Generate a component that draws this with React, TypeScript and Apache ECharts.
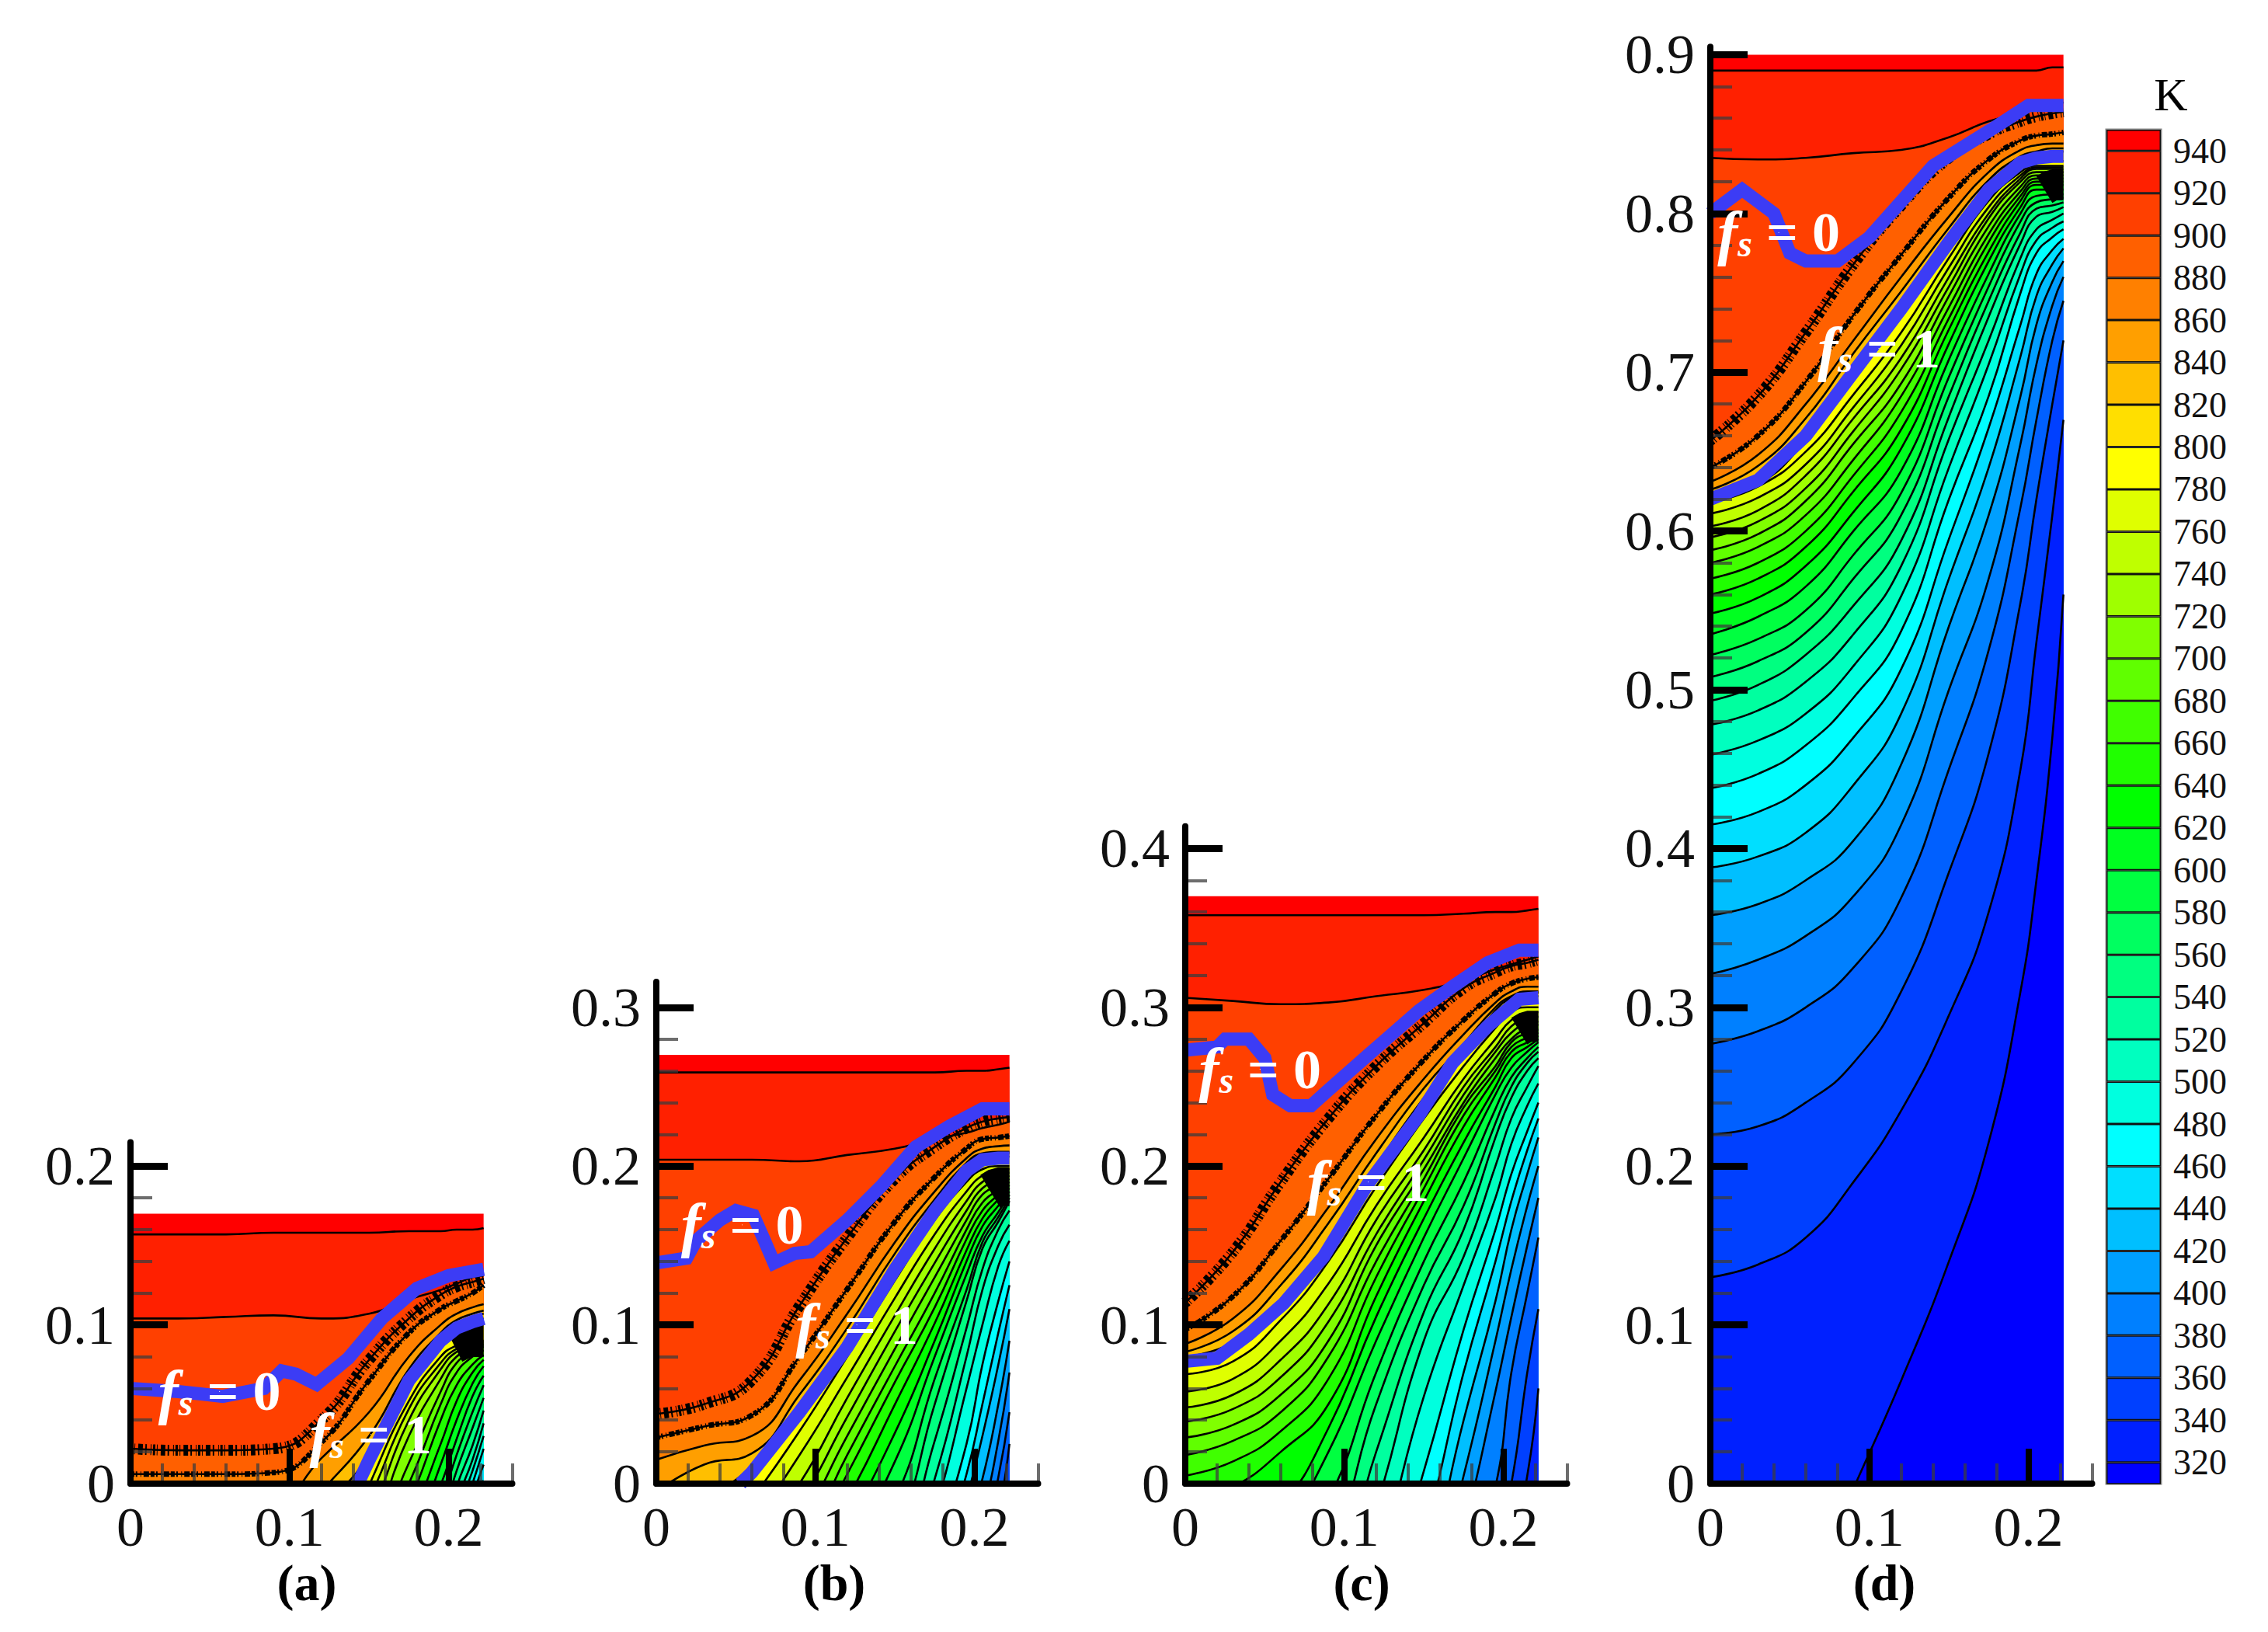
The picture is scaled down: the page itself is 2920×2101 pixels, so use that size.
import React, { useEffect, useRef } from "react";
import * as echarts from "echarts";

const FONT = "Liberation Serif";
const legendLevels = [320,340,360,380,400,420,440,460,480,500,520,540,560,580,600,620,640,660,680,700,720,740,760,780,800,820,840,860,880,900,920,940];
const bandColors = ["#0000ff","#0020ff","#0040ff","#0060ff","#0080ff","#009fff","#00bfff","#00dfff","#00ffff","#00ffdf","#00ffbf","#00ff9f","#00ff80","#00ff60","#00ff40","#00ff20","#00ff00","#20ff00","#40ff00","#60ff00","#80ff00","#9fff00","#bfff00","#dfff00","#ffff00","#ffdf00","#ffbf00","#ff9f00","#ff8000","#ff6000","#ff4000","#ff2000","#ff0000"];
const xs = [0,.03,.06,.09,.12,.15,.175,.195,.205,.215,.222];

// Isotherm heights, hottest (940 K) first, one column per entry of xs
const rowsD = [
[.89,.89,.89,.89,.89,.89,.89,.89,.89,.892,.892],
[.835,.834,.835,.838,.84,.848,.858,.863,.866,.868,.87],
[.657,.685,.725,.768,.805,.835,.85,.858,.861,.863,.864],
[.64,.66,.694,.736,.774,.81,.834,.846,.849,.85,.851],
[.631,.648,.68,.72,.76,.798,.826,.84,.843,.844,.844],
[.626,.641,.671,.712,.751,.791,.821,.836,.839,.841,.841],
[.623,.635,.663,.703,.743,.785,.818,.835,.838,.839,.839],
[.619,.629,.657,.697,.737,.779,.812,.829,.832,.833,.833],
[.618,.628,.65,.686,.725,.772,.808,.826,.83,.83,.83],
[.611,.621,.642,.678,.717,.766,.804,.824,.829,.829,.829],
[.603,.613,.635,.671,.709,.76,.80,.822,.828,.828,.828],
[.596,.606,.627,.663,.702,.754,.797,.82,.826,.826,.826],
[.588,.598,.619,.655,.693,.748,.792,.817,.824,.824,.824],
[.58,.59,.61,.645,.685,.741,.787,.814,.822,.822,.822],
[.57,.58,.60,.635,.675,.734,.782,.811,.82,.82,.82],
[.56,.57,.59,.625,.664,.727,.776,.808,.818,.818,.818],
[.548,.558,.578,.612,.652,.718,.77,.804,.815,.815,.815],
[.535,.546,.565,.60,.638,.708,.762,.80,.811,.812,.812],
[.522,.532,.55,.585,.624,.697,.754,.795,.807,.809,.81],
[.508,.518,.536,.57,.61,.685,.745,.788,.803,.805,.807],
[.493,.503,.522,.553,.594,.672,.735,.781,.798,.801,.804],
[.478,.487,.505,.535,.578,.658,.72,.772,.79,.796,.80],
[.459,.468,.485,.515,.559,.64,.705,.762,.783,.791,.795],
[.438,.447,.465,.495,.537,.62,.685,.75,.775,.785,.79],
[.415,.423,.44,.47,.513,.595,.665,.73,.762,.777,.784],
[.388,.395,.41,.44,.485,.57,.64,.71,.748,.768,.778],
[.358,.365,.38,.405,.453,.54,.61,.685,.73,.757,.77],
[.321,.33,.345,.37,.415,.50,.57,.655,.705,.742,.76],
[.277,.285,.30,.325,.369,.45,.525,.615,.67,.72,.745],
[.22,.225,.24,.265,.31,.385,.46,.555,.62,.68,.72],
[.13,.138,.155,.19,.235,.295,.36,.45,.53,.61,.67],
[-.25,-.15,-.07,-.003,.065,.14,.215,.31,.38,.47,.56],
];
const rowsC = [
[.358,.358,.358,.358,.358,.358,.359,.36,.36,.361,.362],
[.306,.304,.302,.303,.307,.311,.317,.324,.327,.33,.332],
[.114,.146,.19,.23,.263,.29,.312,.322,.326,.328,.33],
[.097,.118,.153,.192,.232,.267,.292,.309,.315,.318,.319],
[.088,.104,.135,.174,.217,.255,.283,.303,.31,.313,.313],
[.083,.096,.125,.164,.208,.249,.277,.30,.307,.31,.31],
[.08,.089,.115,.153,.20,.243,.273,.298,.306,.309,.309],
[.078,.087,.113,.151,.198,.241,.271,.296,.304,.307,.307],
[.069,.077,.103,.14,.187,.23,.263,.287,.297,.3,.3],
[.058,.066,.09,.126,.175,.218,.255,.28,.292,.296,.297],
[.048,.056,.078,.113,.166,.21,.25,.275,.288,.293,.294],
[.039,.047,.067,.102,.157,.204,.245,.272,.284,.29,.291],
[.029,.037,.056,.09,.15,.198,.24,.268,.28,.287,.289],
[.018,.027,.045,.08,.14,.192,.237,.263,.278,.284,.286],
[.005,.014,.033,.066,.13,.186,.232,.26,.275,.281,.284],
[-.012,-.002,.02,.05,.118,.178,.225,.256,.272,.278,.282],
[-.05,-.04,-.015,.035,.105,.167,.215,.25,.268,.275,.28],
[-.07,-.06,-.03,.02,.09,.155,.205,.245,.262,.272,.278],
[-.09,-.08,-.05,-.01,.07,.14,.19,.236,.256,.268,.275],
[-.11,-.1,-.07,-.04,.05,.125,.175,.227,.25,.265,.272],
[-.13,-.12,-.09,-.07,.02,.108,.16,.218,.243,.26,.268],
[-.15,-.14,-.11,-.1,-.015,.09,.143,.2,.23,.25,.263],
[-.17,-.16,-.13,-.12,-.05,.055,.125,.18,.214,.238,.252],
[-.19,-.18,-.15,-.14,-.09,.008,.097,.16,.195,.222,.24],
[-.2,-.2,-.2,-.2,-.11,-.03,.07,.14,.178,.21,.23],
[-.2,-.2,-.2,-.2,-.13,-.06,.04,.115,.16,.195,.218],
[-.2,-.2,-.2,-.2,-.15,-.09,.005,.09,.135,.175,.2],
[-.2,-.2,-.2,-.2,-.17,-.12,-.03,.058,.105,.15,.18],
[-.2,-.2,-.2,-.2,-.19,-.15,-.07,-.002,.07,.12,.155],
[-.3,-.3,-.3,-.3,-.21,-.18,-.1,-.04,0,.07,.11],
[-.3,-.3,-.3,-.3,-.23,-.2,-.13,-.07,-.04,.005,.06],
[-.3,-.3,-.3,-.3,-.25,-.22,-.16,-.1,-.07,-.03,0],
];
const rowsB = [
[.259,.259,.259,.259,.259,.259,.259,.26,.26,.261,.262],
[.204,.204,.204,.203,.207,.211,.217,.221,.224,.226,.228],
[.044,.05,.065,.112,.155,.192,.212,.224,.228,.23,.231],
[.029,.036,.043,.08,.1225,.165,.193,.211,.217,.218,.219],
[.015,.024,.03,.065,.107,.152,.184,.205,.211,.2125,.213],
[-.005,.012,.019,.056,.098,.145,.179,.202,.208,.209,.209],
[-.03,-.01,.011,.048,.089,.138,.175,.2,.207,.208,.208],
[-.05,-.03,.008,.046,.087,.136,.173,.198,.205,.206,.206],
[-.07,-.05,-.01,.033,.08,.128,.166,.19,.198,.2,.2],
[-.08,-.06,-.025,.018,.067,.117,.157,.184,.194,.197,.198],
[-.09,-.07,-.04,0,.054,.106,.148,.178,.19,.194,.196],
[-.1,-.08,-.05,-.012,.042,.096,.139,.172,.186,.191,.194],
[-.11,-.09,-.06,-.025,.03,.085,.13,.166,.182,.188,.192],
[-.12,-.1,-.07,-.04,.018,.074,.12,.16,.177,.185,.19],
[-.13,-.11,-.08,-.05,.006,.064,.111,.154,.172,.182,.188],
[-.14,-.12,-.09,-.06,-.01,.05,.101,.147,.167,.179,.186],
[-.15,-.13,-.1,-.07,-.025,.032,.09,.14,.162,.175,.184],
[-.16,-.14,-.11,-.08,-.04,.014,.08,.132,.156,.171,.182],
[-.17,-.15,-.12,-.09,-.055,-.01,.066,.122,.152,.168,.18],
[-.18,-.16,-.13,-.1,-.065,-.03,.05,.115,.148,.165,.178],
[-.19,-.17,-.14,-.11,-.08,-.05,.027,.098,.135,.16,.172],
[-.2,-.2,-.2,-.2,-.1,-.07,.003,.08,.122,.15,.163],
[-.2,-.2,-.2,-.2,-.12,-.09,-.018,.06,.1,.137,.153],
[-.2,-.2,-.2,-.2,-.14,-.11,-.04,.025,.075,.115,.14],
[-.2,-.2,-.2,-.2,-.16,-.13,-.06,.006,.05,.095,.125],
[-.2,-.2,-.2,-.2,-.18,-.15,-.08,-.01,.03,.075,.11],
[-.2,-.2,-.2,-.2,-.2,-.17,-.1,-.03,.003,.05,.09],
[-.3,-.3,-.3,-.3,-.22,-.19,-.12,-.05,-.02,.027,.07],
[-.3,-.3,-.3,-.3,-.24,-.21,-.14,-.07,-.04,.004,.045],
[-.3,-.3,-.3,-.3,-.26,-.23,-.16,-.09,-.06,-.02,.025],
[-.3,-.3,-.3,-.3,-.28,-.25,-.18,-.11,-.08,-.04,0],
[-.3,-.3,-.3,-.3,-.3,-.27,-.2,-.13,-.1,-.06,-.02],
];
const rowsA = [
[.157,.157,.157,.158,.158,.158,.159,.159,.16,.16,.161],
[.104,.104,.105,.106,.104,.107,.116,.122,.126,.13,.131],
[.022,.021,.021,.022,.04,.078,.104,.119,.124,.127,.129],
[.006,.006,.006,.007,.026,.065,.095,.11,.115,.12,.125],
[-.02,-.02,-.02,-.015,.016,.045,.08,.1,.107,.111,.113],
[-.05,-.05,-.05,-.04,-.005,.03,.072,.095,.103,.107,.109],
[-.07,-.07,-.07,-.06,-.018,.018,.068,.093,.101,.105,.107],
[-.08,-.08,-.08,-.07,-.03,.015,.065,.09,.098,.102,.104],
[-.1,-.1,-.1,-.1,-.07,-.001,.052,.08,.087,.09,.09],
[-.1,-.1,-.1,-.1,-.07,-.01,.047,.076,.085,.088,.089],
[-.1,-.1,-.1,-.1,-.07,-.02,.04,.072,.083,.086,.088],
[-.1,-.1,-.1,-.1,-.07,-.03,.03,.066,.08,.085,.087],
[-.1,-.1,-.1,-.1,-.07,-.04,.013,.058,.076,.083,.086],
[-.1,-.1,-.1,-.1,-.07,-.05,0,.05,.07,.08,.084],
[-.1,-.1,-.1,-.1,-.07,-.06,-.012,.04,.062,.075,.081],
[-.1,-.1,-.1,-.1,-.07,-.07,-.025,.025,.052,.07,.078],
[-.1,-.1,-.1,-.1,-.08,-.08,-.04,.012,.04,.063,.074],
[-.1,-.1,-.1,-.1,-.08,-.08,-.05,-.001,.028,.055,.068],
[-.1,-.1,-.1,-.1,-.08,-.08,-.06,-.012,.018,.045,.062],
[-.1,-.1,-.1,-.1,-.08,-.08,-.07,-.024,.008,.035,.054],
[-.1,-.1,-.1,-.1,-.08,-.08,-.08,-.036,-.002,.024,.046],
[-.1,-.1,-.1,-.1,-.08,-.08,-.08,-.05,-.012,.015,.038],
[-.1,-.1,-.1,-.1,-.08,-.08,-.08,-.06,-.02,.008,.03],
[-.1,-.1,-.1,-.1,-.08,-.08,-.08,-.07,-.03,0,.022],
[-.1,-.1,-.1,-.1,-.08,-.08,-.08,-.08,-.04,-.008,.012],
[-.1,-.1,-.1,-.1,-.08,-.08,-.08,-.08,-.05,-.016,.002],
];

// Solidus / liquidus fronts
const fs0A = [[0,.06],[.03,.058],[.058,.055],[.084,.06],[.095,.071],[.104,.069],[.117,.0625],[.137,.079],[.158,.104],[.18,.123],[.2,.131],[.222,.135]];
const fs1A = [[.143,0],[.15,.015],[.175,.065],[.195,.09],[.205,.098],[.215,.102],[.222,.104]];
const fs0B = [[0,.139],[.019,.142],[.025,.153],[.04,.166],[.05,.172],[.061,.169],[.068,.153],[.074,.139],[.087,.145],[.097,.146],[.12,.166],[.142,.188],[.163,.212],[.184,.225],[.205,.236],[.222,.236]];
const fs1B = [[.053,0],[.06,.007],[.09,.045],[.12,.086],[.15,.135],[.175,.172],[.195,.197],[.205,.204],[.215,.205],[.222,.205]];
const fs0C = [[0,.273],[.02,.275],[.025,.28],[.04,.28],[.05,.268],[.055,.245],[.066,.238],[.079,.238],[.089,.247],[.115,.27],[.147,.298],[.168,.313],[.19,.328],[.21,.336],[.222,.336]];
const fs1C = [[0,.077],[.02,.079],[.04,.094],[.062,.1136],[.087,.143],[.115,.189],[.147,.232],[.168,.265],[.19,.288],[.21,.305],[.222,.306]];
const fs0D = [[0,.8],[.02,.815],[.04,.80],[.05,.775],[.06,.77],[.08,.77],[.1,.785],[.14,.83],[.18,.855],[.2,.868],[.222,.868]];
const fs1D = [[0,.62],[.03,.632],[.06,.66],[.09,.70],[.12,.74],[.15,.782],[.175,.815],[.195,.832],[.205,.835],[.215,.836],[.222,.836]];

const blobA = [[.204,.086],[.212,.09],[.222,.09]];
const blobB = [[.21,.184],[.215,.187],[.222,.187]];
const blobC = [[.21,.285],[.215,.288],[.222,.288]];
const blobD = [[.21,.815],[.215,.818],[.222,.818]];

const xMajor = [.1,.2];
const xMinor = [.02,.04,.06,.08,.12,.14,.16,.18,.22,.24];
const xLabels = [0,.1,.2];
const minorY = [.02,.04,.06,.08,.12,.14,.16,.18,.22,.24,.26,.28,.32,.34,.36,.38,.42,.44,.46,.48,.52,.54,.56,.58,.62,.64,.66,.68,.72,.74,.76,.78,.82,.84,.86,.88];
const panelTitles = ["(a)","(b)","(c)","(d)"];

const panels = [
  { rows: rowsA, fs0: fs0A, fs1: fs1A, blob: blobA, left: 168, maxY: .215, domainTop: .17, yMajor: [.1,.2], t0: [.056,.058], t1: [.151,.031], titleX: 395, blobW: 42 },
  { rows: rowsB, fs0: fs0B, fs1: fs1B, blob: blobB, left: 845, maxY: .316, domainTop: .27, yMajor: [.1,.2,.3], t0: [.054,.163], t1: [.126,.10], titleX: 1074, blobW: 50 },
  { rows: rowsC, fs0: fs0C, fs1: fs1C, blob: blobC, left: 1526, maxY: .414, domainTop: .37, yMajor: [.1,.2,.3,.4], t0: [.047,.261], t1: [.115,.19], titleX: 1753, blobW: 40 },
  { rows: rowsD, fs0: fs0D, fs1: fs1D, blob: blobD, left: 2202, maxY: .905, domainTop: .9, yMajor: [.1,.2,.3,.4,.5,.6,.7,.8,.9], t0: [.043,.788], t1: [.106,.715], titleX: 2426, blobW: 40 },
];

const BOTTOM = 1910;
const YSCALE = 2044;
const XSCALE = 2048;

function buildOption() {
  const grid: any[] = [], xAxis: any[] = [], yAxis: any[] = [], series: any[] = [], graphic: any[] = [];
  panels.forEach((p, i) => {
    const height = p.maxY * YSCALE;
    grid.push({ left: p.left, top: BOTTOM - height, width: .24 * XSCALE, height });
    const axX = i * 2, axY = i * 2;
    xAxis.push({
      gridIndex: i, type: "value", min: 0, max: .24, position: "bottom", z: 6,
      splitLine: { show: false },
      axisLine: { show: true, onZero: false, lineStyle: { color: "#000", width: 8 } },
      axisTick: { show: true, inside: true, customValues: xMajor, length: 45, lineStyle: { color: "#000", width: 8 } },
      axisLabel: { show: true, customValues: xLabels, margin: 20, fontFamily: FONT, fontSize: 72, color: "#111", formatter: (v: number) => String(v) },
    });
    xAxis.push({
      gridIndex: i, type: "value", min: 0, max: .24, position: "bottom", z: 5,
      splitLine: { show: false }, axisLine: { show: false }, axisLabel: { show: false },
      axisTick: { show: true, inside: true, customValues: xMinor, length: 26, lineStyle: { color: "rgba(60,60,60,.75)", width: 4 } },
    });
    yAxis.push({
      gridIndex: i, type: "value", min: 0, max: p.maxY, position: "left", z: 6,
      splitLine: { show: false },
      axisLine: { show: true, onZero: false, lineStyle: { color: "#000", width: 8 } },
      axisTick: { show: true, inside: true, customValues: p.yMajor, length: 48, lineStyle: { color: "#000", width: 9 } },
      axisLabel: { show: true, customValues: [0, ...p.yMajor], margin: 20, fontFamily: FONT, fontSize: 72, color: "#111", formatter: (v: number) => String(v) },
    });
    yAxis.push({
      gridIndex: i, type: "value", min: 0, max: p.maxY, position: "left", z: 5,
      splitLine: { show: false }, axisLine: { show: false }, axisLabel: { show: false },
      axisTick: { show: true, inside: true, customValues: minorY.filter((v) => v < p.maxY), length: 28, lineStyle: { color: "rgba(60,60,60,.75)", width: 4 } },
    });
    const base = { type: "line", xAxisIndex: axX, yAxisIndex: axY, showSymbol: false, symbol: "none", silent: true, animation: false };
    series.push({ ...base, data: [[0, p.domainTop], [.222, p.domainTop]], lineStyle: { width: 0 }, areaStyle: { color: "#ff0000", opacity: 1, origin: "start" } });
    p.rows.forEach((row, k) => {
      series.push({
        ...base, smooth: .5,
        data: xs.map((x, j) => [x, row[j]]),
        lineStyle: { color: "#000", width: 2.6 },
        areaStyle: { color: bandColors[31 - k], opacity: 1, origin: "start" },
      });
    });
    [[2, 14, [3, 2, 1, 4, 6, 3, 2, 5, 1, 2]], [3, 7, [5, 2, 2, 4, 1, 3, 7, 2]]].forEach(([rowIndex, width, dash]: any) => {
      series.push({
        ...base, smooth: .5,
        data: xs.map((x, j) => [x, p.rows[rowIndex][j]]),
        lineStyle: { color: "#000", width, type: dash },
      });
    });
    series.push({ ...base, data: p.blob, lineStyle: { color: "#000", width: p.blobW, cap: "butt" } });
    series.push({ ...base, data: p.fs0, lineStyle: { color: "#3c3cf5", width: 17, join: "miter" } });
    series.push({ ...base, data: p.fs1, lineStyle: { color: "#3c3cf5", width: 17, join: "miter" } });
    series.push({
      type: "scatter", xAxisIndex: axX, yAxisIndex: axY, symbolSize: 1, silent: true, z: 8,
      itemStyle: { opacity: 1, color: "#fff" },
      data: [{ value: p.t0, name: "0" }, { value: p.t1, name: "1" }],
      label: {
        show: true, position: "inside", color: "#fff", opacity: 1, fontFamily: FONT, fontSize: 72,
        formatter: (d: any) => `{f|f}{s|s}{n| = ${d.name}}`,
        rich: {
          f: { fontFamily: FONT, fontStyle: "italic", fontWeight: "bold", fontSize: 78, color: "#fff", opacity: 1 },
          s: { fontFamily: FONT, fontStyle: "italic", fontWeight: "bold", fontSize: 48, color: "#fff", opacity: 1, padding: [28, 0, 0, 0] },
          n: { fontFamily: FONT, fontSize: 72, fontWeight: "bold", color: "#fff", opacity: 1 },
        },
      },
    });
    graphic.push({ type: "text", x: p.titleX, y: 2037, z: 20, style: { text: panelTitles[i], fontFamily: FONT, fontWeight: "bold", fontSize: 66, fill: "#000", textAlign: "center", textVerticalAlign: "middle" } });
  });
  // colour bar
  const li = panels.length;
  grid.push({ left: 2712, top: 167, width: 70, height: BOTTOM - 167, show: true, borderColor: "#888", borderWidth: 3, backgroundColor: "transparent" });
  xAxis.push({ gridIndex: li, type: "category", data: ["K"], show: false });
  yAxis.push({
    gridIndex: li, type: "value", min: 310, max: 950, position: "right",
    splitLine: { show: false }, axisLine: { show: false }, axisTick: { show: false },
    axisLabel: { show: true, customValues: legendLevels, margin: 16, fontFamily: FONT, fontSize: 46, color: "#111", padding: [30, 0, 0, 0] },
  });
  const xi = li * 2, yi = li * 2;
  bandColors.forEach((color, b) => {
    const value = b === 0 ? 320 : b === bandColors.length - 1 ? 10 : 20;
    series.push({
      type: "bar", stack: "colorbar", xAxisIndex: xi, yAxisIndex: yi, barWidth: "100%", silent: true,
      data: [value], itemStyle: { color, borderColor: "#111", borderWidth: 1.5 },
    });
  });
  graphic.push({ type: "text", x: 2795, y: 122, z: 20, style: { text: "K", fontFamily: FONT, fontSize: 60, fill: "#000", textAlign: "center", textVerticalAlign: "middle" } });
  return { animation: false, backgroundColor: "#fff", grid, xAxis, yAxis, series, graphic };
}

export default function App() {
  const ref = useRef<HTMLDivElement>(null);
  useEffect(() => {
    const chart = echarts.init(ref.current!, null, { renderer: "svg", width: 2920, height: 2101 });
    chart.setOption(buildOption());
    return () => chart.dispose();
  }, []);
  return <div ref={ref} style={{ position: "fixed", left: 0, top: 0, width: 2920, height: 2101, background: "#fff" }} />;
}
